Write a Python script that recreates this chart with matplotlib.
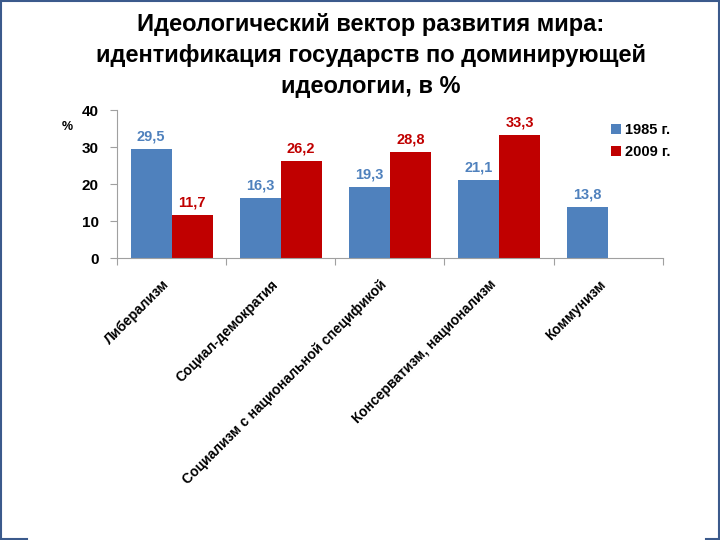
import numpy as np
import matplotlib.pyplot as plt
import matplotlib.transforms as mtransforms
from matplotlib.lines import Line2D

plt.rcParams['font.family'] = ['Liberation Sans', 'DejaVu Sans']

categories = ['Либерализм', 'Социал-демократия', 'Социализм с национальной спецификой',
              'Консерватизм, национализм', 'Коммунизм']
values_1985 = [29.5, 16.3, 19.3, 21.1, 13.8]
values_2009 = [11.7, 26.2, 28.8, 33.3, np.nan]
series_names = ['1985 г.', '2009 г.']
title = 'Идеологический вектор развития мира:\nидентификация государств по доминирующей\nидеологии, в %'

blue = '#4F81BD'
red = '#C00000'

fig = plt.figure(figsize=(7.2, 5.4), dpi=100)
ax = fig.add_axes([0.1625, 0.522, 0.758, 0.274])

x = np.arange(len(categories))
w = 0.375
b1 = ax.bar(x - w / 2, values_1985, w, color=blue, label=series_names[0])
b2 = ax.bar(x + w / 2, values_2009, w, color=red, label=series_names[1])

# подписи значений
for bars, vals, col in [(b1, values_1985, blue), (b2, values_2009, red)]:
    for bar, v in zip(bars, vals):
        if np.isnan(v):
            continue
        ax.annotate(f'{v:.1f}'.replace('.', ','),
                    (bar.get_x() + bar.get_width() / 2, v),
                    xytext=(0, 4), textcoords='offset points',
                    ha='center', va='bottom', color=col,
                    fontsize=10.5, fontweight='bold')

ax.set_xlim(-0.5, len(categories) - 0.5)
ax.set_ylim(0, 40)
ax.set_yticks([0, 10, 20, 30, 40])
ax.set_xticks(np.arange(len(categories) + 1) - 0.5, minor=False)
ax.set_xticklabels([])
ax.set_xticks(x, minor=True)
ax.set_xticklabels(categories, minor=True, rotation=45, ha='right',
                   fontsize=10, fontweight='bold')
shift = mtransforms.ScaledTranslation(5 / 72, 0, fig.dpi_scale_trans)
for t in ax.get_xticklabels(minor=True):
    t.set_transform(t.get_transform() + shift)
ax.tick_params(axis='x', which='minor', length=0, pad=14)
ax.tick_params(axis='x', which='major', length=5, color='#A0A0A0')
ax.tick_params(axis='y', length=5, color='#A0A0A0', labelsize=11, pad=8)
for t in ax.get_yticklabels():
    t.set_fontweight('bold')

for s in ['top', 'right']:
    ax.spines[s].set_visible(False)
ax.spines['left'].set_color('#A0A0A0')
ax.spines['bottom'].set_color('#A0A0A0')

fig.text(0.093, 0.765, '%', fontsize=9, fontweight='bold', ha='center', va='center')

fig.legend(handles=[b1, b2], loc='upper left', bbox_to_anchor=(0.83, 0.797),
           frameon=False, handlelength=0.7, handleheight=0.7, handletextpad=0.3,
           labelspacing=0.55, prop={'weight': 'bold', 'size': 10.5})

fig.text(0.515, 0.976, title, ha='center', va='top', fontsize=17,
         fontweight='bold', linespacing=1.45)

# рамка слайда
frame = '#3B5A8C'
fig.add_artist(Line2D([0.002, 0.002], [0, 1], color=frame, lw=1.5, transform=fig.transFigure))
fig.add_artist(Line2D([0.998, 0.998], [0, 1], color=frame, lw=1.5, transform=fig.transFigure))
fig.add_artist(Line2D([0, 1], [0.999, 0.999], color=frame, lw=1.5, transform=fig.transFigure))
fig.add_artist(Line2D([0, 0.038], [0.002, 0.002], color=frame, lw=1.5, transform=fig.transFigure))
fig.add_artist(Line2D([0.98, 1], [0.002, 0.002], color=frame, lw=1.5, transform=fig.transFigure))

fig.savefig('out.png', dpi=100)
